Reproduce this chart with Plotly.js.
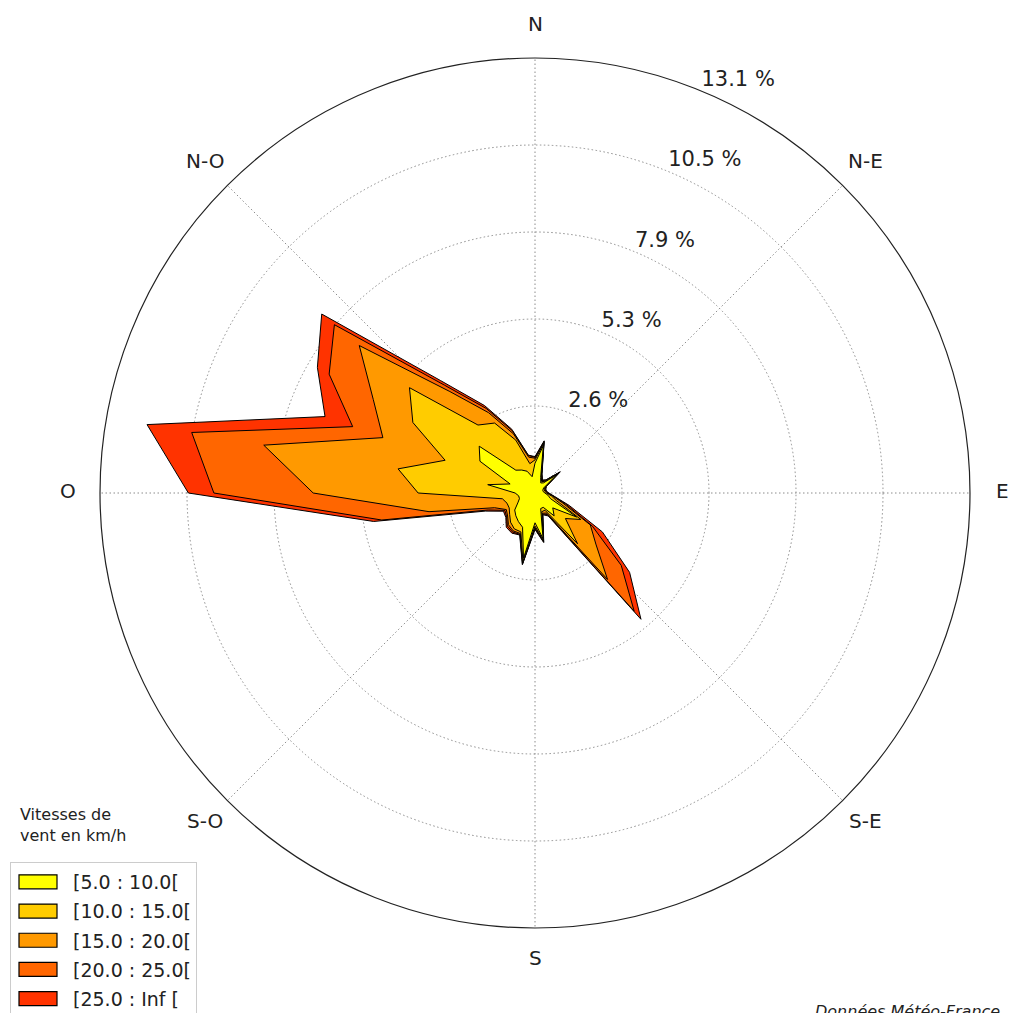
<!DOCTYPE html>
<html>
<head>
<meta charset="utf-8">
<script src="https://cdn.plot.ly/plotly-3.0.1.min.js"></script>
<style>html,body{margin:0;padding:0;background:#fff;}#chart{width:1026px;height:1013px;}</style>
</head>
<body>
<div id="chart"></div>
<script>
// Wind directions (degrees, clockwise from North)
const directions = [0,10,20,30,40,50,60,70,80,90,100,110,120,130,140,150,160,170,
                    180,190,200,210,220,230,240,250,260,270,280,290,300,310,320,330,340,350];

// Cumulative frequency (%) of winds up to each speed class, per direction
const upTo10  = [0.9,1.45,0.5,0.35,0.4,0.85,0.3,0.25,0.25,0.3,0.4,0.5,1.45,0.7,0.9,0.5,0.5,1.4,
                 0.9,2.0,1.1,1.0,0.9,0.8,0.6,0.5,0.5,0.6,1.45,0.8,1.92,2.2,0.9,0.8,0.7,0.5];
const upTo15  = [1.0,1.52,0.55,0.4,0.45,0.92,0.35,0.3,0.3,0.35,0.5,0.7,1.6,1.2,2.0,0.6,0.6,1.45,
                 1.0,2.1,1.25,1.25,1.15,1.0,0.9,0.9,1.0,3.53,4.2,2.89,4.26,4.95,2.68,2.44,1.7,0.9];
const upTo20  = [1.05,1.56,0.58,0.42,0.48,0.96,0.37,0.32,0.32,0.38,0.55,0.9,1.93,2.4,3.41,0.7,0.65,1.48,
                 1.05,2.15,1.3,1.32,1.25,1.08,1.0,1.3,3.25,6.7,8.32,4.89,5.64,6.93,4.0,2.8,1.9,1.1];
const upTo25  = [1.08,1.58,0.6,0.44,0.5,0.98,0.38,0.33,0.33,0.4,0.58,1.0,2.0,3.4,4.66,0.75,0.68,1.5,
                 1.08,2.18,1.33,1.36,1.3,1.12,1.05,1.5,4.7,9.7,10.53,5.86,7.18,7.91,4.25,2.95,2.0,1.15];
const upToInf = [1.1,1.6,0.62,0.45,0.52,1.0,0.4,0.35,0.35,0.42,0.6,1.1,2.35,3.73,4.98,0.8,0.7,1.52,
                 1.1,2.2,1.35,1.4,1.35,1.15,1.1,1.6,4.95,10.47,11.9,6.75,7.59,8.41,4.43,3.05,2.05,1.16];

const classLabels = ["[5.0 : 10.0[", "[10.0 : 15.0[", "[15.0 : 20.0[", "[20.0 : 25.0[", "[25.0 : Inf ["];
const classColors = ["#ffff00", "#ffcc00", "#ff9900", "#ff6600", "#ff3300"];

const ringValues = [2.628, 5.256, 7.884, 10.512, 13.14];
const ringLabels = ["2.6 %", "5.3 %", "7.9 %", "10.5 %", "13.1 %"];
const rMax = 13.14;

const compassVals = [0,45,90,135,180,225,270,315];
const compassText = ["N","N-E","E","S-E","S","S-O","O","N-O"];

const series = [upTo10, upTo15, upTo20, upTo25, upToInf];

const W = 1026, H = 1013;
// polar area geometry (pixels)
const CX = 535, CY = 493, R = 435, LABEL_R = 467;
const FONT = "DejaVu Sans, sans-serif";
const GRID_DASH = "1.5px,2.5px";

const traces = [];
// draw largest class first so smaller ones sit on top
for (let i = series.length - 1; i >= 0; i--) {
  traces.push({
    type: "scatterpolar",
    r: series[i].concat([series[i][0]]),
    theta: directions.concat([directions[0]]),
    mode: "lines",
    fill: "toself",
    fillcolor: classColors[i],
    line: {color: "#000000", width: 1},
    name: classLabels[i],
    legendgroup: "class" + i,
    legendrank: i + 1,
    hoverinfo: "skip"
  });
}
// ring labels
traces.push({
  type: "scatterpolar",
  r: ringValues,
  theta: ringValues.map(() => 22.5),
  mode: "text",
  text: ringLabels,
  textposition: "top right",
  textfont: {family: FONT, size: 21, color: "#222"},
  cliponaxis: false,
  showlegend: false,
  hoverinfo: "skip"
});

// compass labels just outside the outer circle
const compassAnnotations = compassVals.map((deg, k) => {
  const a = deg * Math.PI / 180;
  return {
    xref: "paper", yref: "paper",
    x: (CX + LABEL_R * Math.sin(a)) / W,
    y: 1 - (CY - LABEL_R * Math.cos(a) - 2) / H,
    xanchor: "center", yanchor: "middle", showarrow: false,
    text: compassText[k],
    font: {family: FONT, size: 20, color: "#222"}
  };
});

const layout = {
  width: W, height: H,
  margin: {l: 0, r: 0, t: 0, b: 0, autoexpand: false},
  paper_bgcolor: "#ffffff",
  font: {family: FONT, color: "#222"},
  showlegend: true,
  polar: {
    domain: {x: [(CX - R) / W, (CX + R) / W], y: [1 - (CY + R) / H, 1 - (CY - R) / H]},
    bgcolor: "#ffffff",
    angularaxis: {
      rotation: 90, direction: "clockwise",
      tickmode: "array", tickvals: compassVals, ticktext: compassText,
      showticklabels: false, ticks: "",
      showline: true, linecolor: "#222", linewidth: 1.2,
      showgrid: true, gridcolor: "#8c8c8c", griddash: GRID_DASH, gridwidth: 1
    },
    radialaxis: {
      range: [0, rMax], tickmode: "array", tickvals: ringValues,
      showticklabels: false, ticks: "", showline: false,
      showgrid: true, gridcolor: "#8c8c8c", griddash: GRID_DASH, gridwidth: 1
    }
  },
  legend: {
    x: 10 / W, xanchor: "left", y: 1 - 862 / H, yanchor: "top",
    traceorder: "grouped", tracegroupgap: 1.5,
    itemwidth: 52,
    bgcolor: "#ffffff", bordercolor: "#cccccc", borderwidth: 1,
    font: {family: FONT, size: 19, color: "#222"}
  },
  annotations: compassAnnotations.concat([
    {xref: "paper", yref: "paper", x: 18 / W, y: 1 - 803 / H, xanchor: "left", yanchor: "top",
     align: "left", showarrow: false, text: "Vitesses de<br>vent en km/h",
     font: {family: FONT, size: 16, color: "#222"}},
    {xref: "paper", yref: "paper", x: 813 / W, y: 1 - 1000 / H, xanchor: "left", yanchor: "top",
     align: "left", showarrow: false, text: "Données Météo-France",
     font: {family: FONT, size: 16, color: "#222", style: "italic"}}
  ])
};

Plotly.newPlot("chart", traces, layout, {displayModeBar: false, staticPlot: true}).then(function (gd) {
  // legend swatches as bordered rectangles, like the reference
  gd.querySelectorAll(".legend .traces").forEach(function (tr) {
    const fill = tr.querySelector(".js-fill");
    if (fill) {
      fill.setAttribute("d", "M8,-7h38v14h-38z");
      fill.style.stroke = "#000";
      fill.style.strokeWidth = "1.2px";
    }
    tr.querySelectorAll(".js-line").forEach(function (l) { l.style.display = "none"; });
  });
});
</script>
</body>
</html>
